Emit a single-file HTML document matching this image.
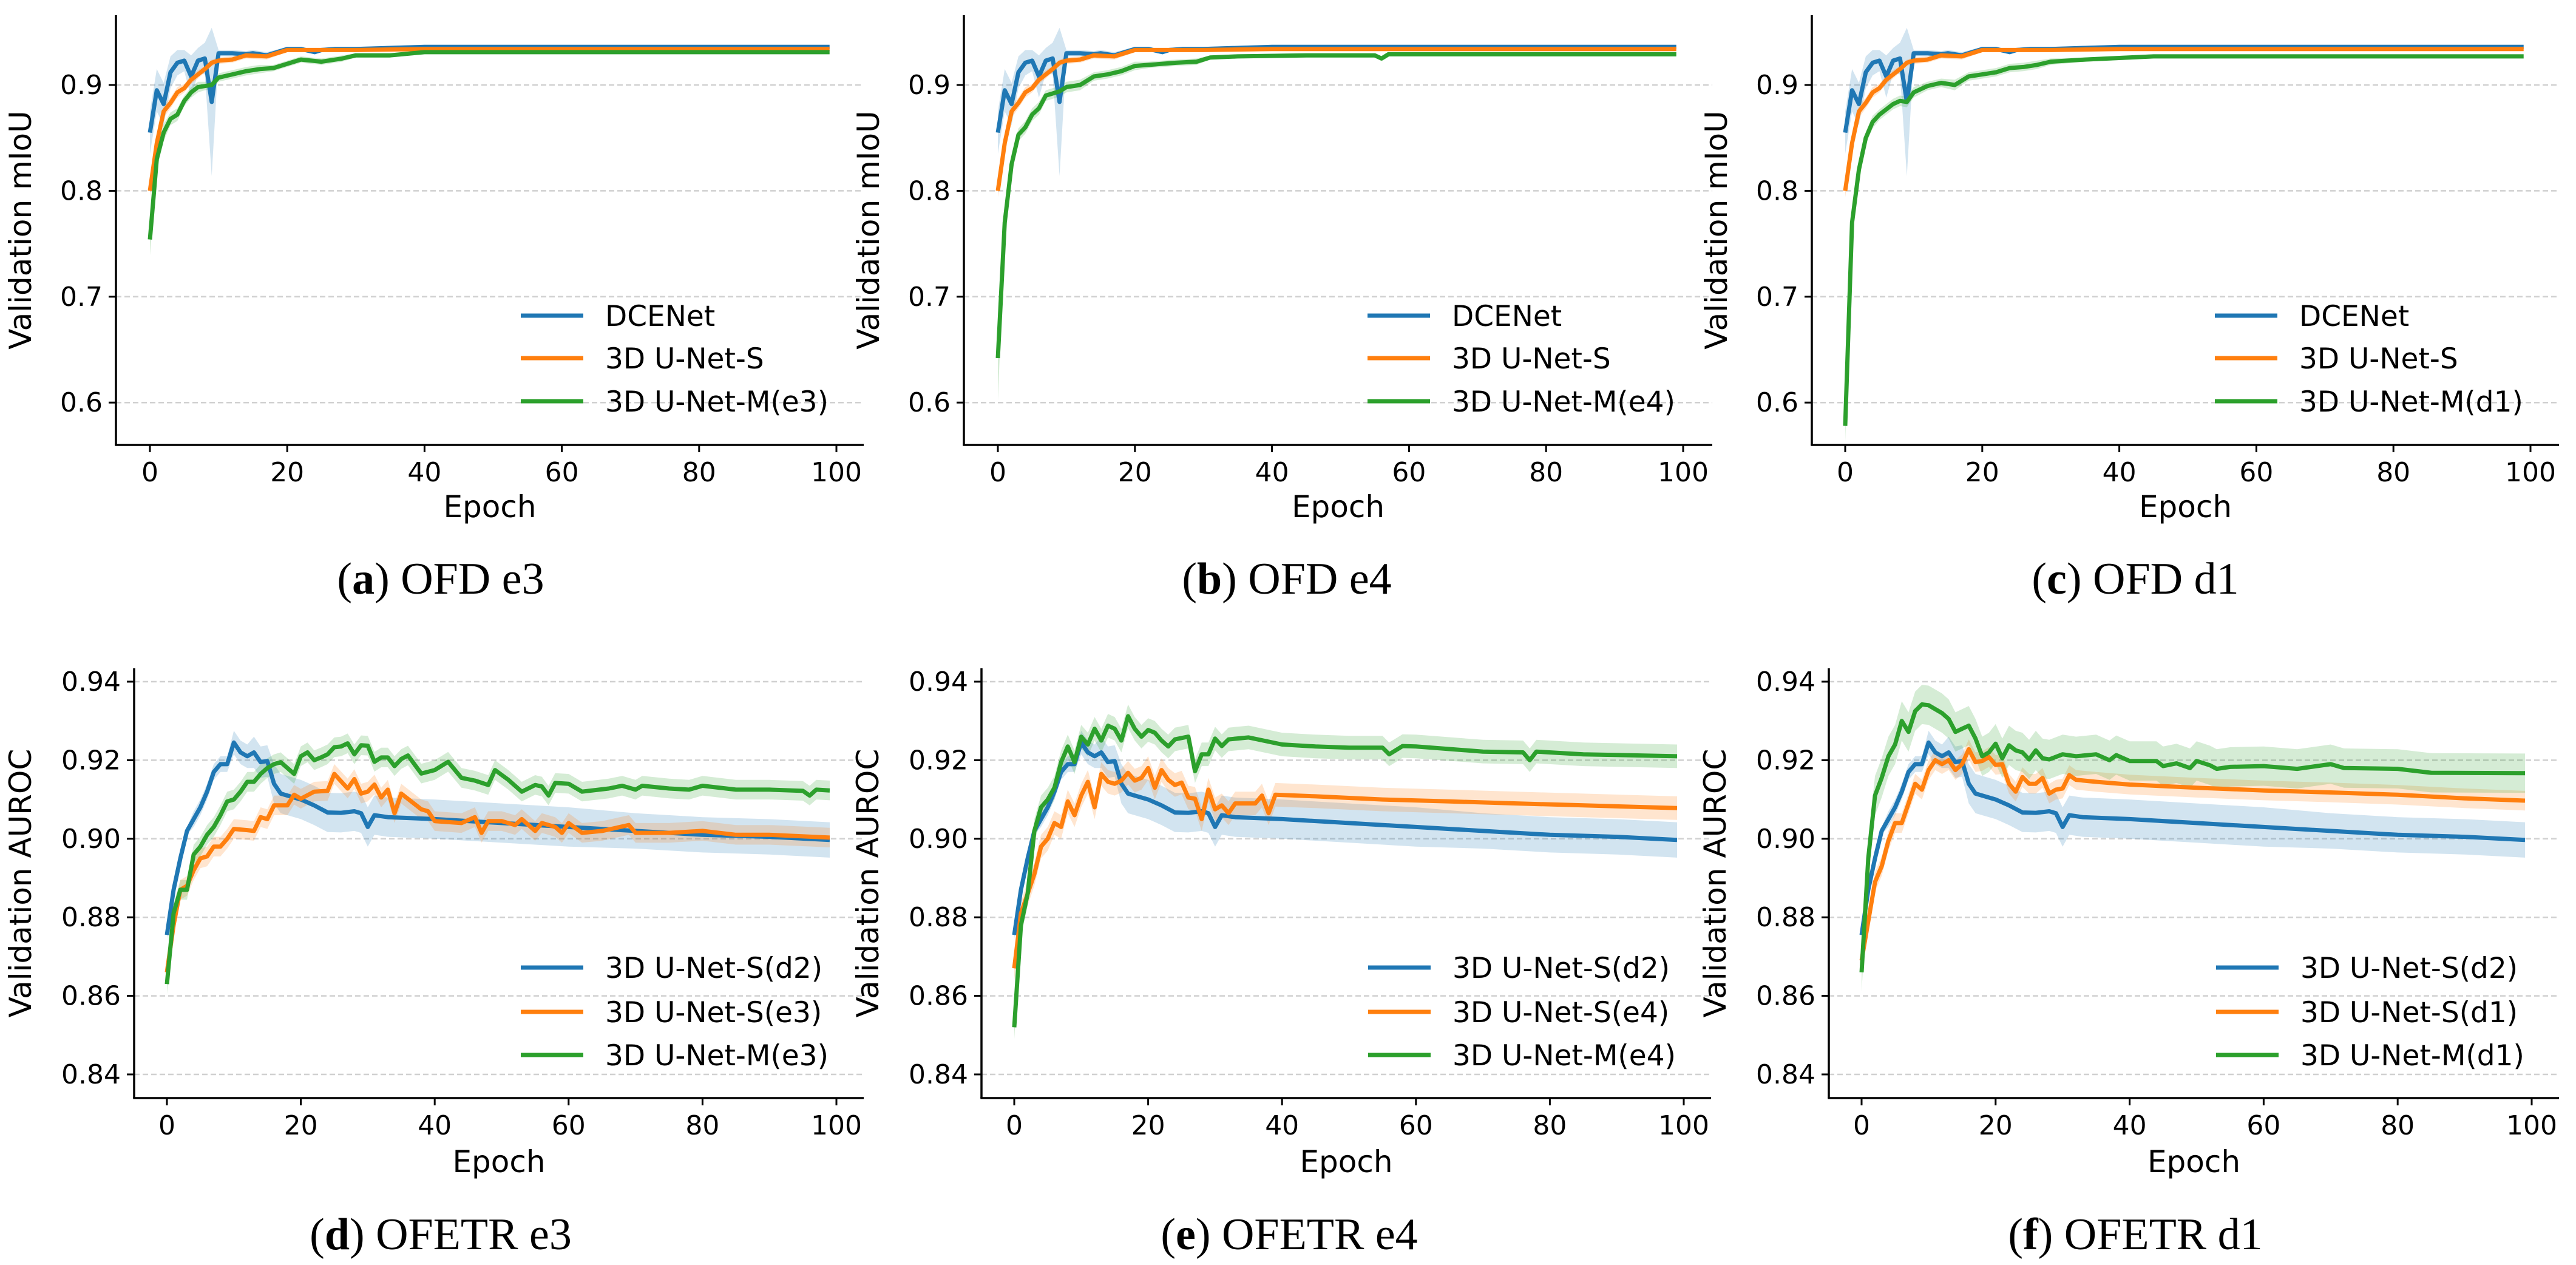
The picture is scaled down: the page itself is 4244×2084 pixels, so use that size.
<!DOCTYPE html>
<html><head><meta charset="utf-8"><style>
html,body{margin:0;padding:0;background:#fff;}
svg{display:block;}
</style></head><body>
<svg id="fig" width="4244" height="2084" viewBox="0 0 4244 2084" xmlns="http://www.w3.org/2000/svg"></svg>
<script>
// ---------- data ----------
const ofdTicks = [0.6, 0.7, 0.8, 0.9];
const ofdTickLabels = ["0.6", "0.7", "0.8", "0.9"];
const aurocTicks = [0.84, 0.86, 0.88, 0.90, 0.92, 0.94];
const aurocTickLabels = ["0.84", "0.86", "0.88", "0.90", "0.92", "0.94"];
const xTicks = [0, 20, 40, 60, 80, 100];
const xTickLabels = ["0", "20", "40", "60", "80", "100"];

const dcenetEpochs = [0,1,2,3,4,5,6,7,8,9,10,12,14,15,17,20,22,24,25,27,30,35,40,50,60,80,99];
const dcenetValues = [0.855,0.895,0.882,0.912,0.921,0.923,0.908,0.923,0.925,0.884,0.930,0.930,0.929,0.930,0.928,0.934,0.934,0.931,0.933,0.934,0.934,0.935,0.936,0.936,0.936,0.936,0.936];
const dcenetStd = [0.02,0.02,0.02,0.015,0.012,0.01,0.02,0.012,0.015,0.07,0.003,0.003,0.003,0.003,0.003,0.002,0.002,0.002,0.002,0.002,0.002,0.002,0.002,0.002,0.002,0.002,0.002];

const unetSEpochs = [0,1,2,3,4,5,6,7,8,9,10,12,14,17,20,30,40,60,99];
const unetSValues = [0.800,0.845,0.875,0.883,0.893,0.897,0.905,0.910,0.915,0.921,0.923,0.924,0.928,0.927,0.933,0.933,0.934,0.934,0.934];
const unetSStd = [0.006,0.006,0.006,0.005,0.005,0.004,0.004,0.004,0.003,0.003,0.003,0.003,0.003,0.003,0.002,0.002,0.002,0.002,0.002];

const mE3Epochs = [0,1,2,3,4,5,6,7,8,9,10,12,14,16,18,22,25,28,30,35,40,60,99];
const mE3Values = [0.754,0.830,0.855,0.868,0.872,0.885,0.893,0.898,0.899,0.900,0.907,0.910,0.913,0.915,0.916,0.924,0.922,0.925,0.928,0.928,0.931,0.931,0.931];
const mE3Std = [0.015,0.01,0.008,0.006,0.006,0.005,0.005,0.005,0.004,0.004,0.004,0.004,0.004,0.004,0.003,0.003,0.003,0.003,0.002,0.002,0.002,0.002,0.002];

const mE4Epochs = [0,1,2,3,4,5,6,7,8,9,10,12,14,16,18,20,22,26,29,31,35,45,55,56,57,99];
const mE4Values = [0.642,0.770,0.825,0.853,0.860,0.872,0.878,0.890,0.892,0.894,0.898,0.900,0.908,0.910,0.913,0.918,0.919,0.921,0.922,0.926,0.927,0.928,0.928,0.925,0.929,0.929];
const mE4Std = [0.04,0.015,0.01,0.006,0.006,0.006,0.006,0.005,0.005,0.005,0.005,0.005,0.004,0.004,0.004,0.004,0.003,0.003,0.003,0.002,0.002,0.002,0.002,0.002,0.002,0.002];

const mD1Epochs = [0,1,2,3,4,5,6,7,8,9,10,12,14,16,18,20,22,24,26,28,30,35,45,60,99];
const mD1Values = [0.578,0.770,0.820,0.850,0.865,0.872,0.877,0.882,0.885,0.884,0.893,0.899,0.902,0.900,0.908,0.910,0.912,0.916,0.917,0.919,0.922,0.924,0.927,0.927,0.927];
const mD1Std = [0.015,0.01,0.008,0.006,0.006,0.005,0.005,0.005,0.005,0.005,0.005,0.004,0.004,0.005,0.004,0.004,0.004,0.004,0.004,0.004,0.003,0.002,0.002,0.002,0.002];

const sD2Epochs = [0,1,2,3,4,5,6,7,8,9,10,11,12,13,14,15,16,17,18,20,22,24,26,28,29,30,31,33,40,50,60,70,80,90,99];
const sD2Values = [0.8755,0.887,0.895,0.902,0.905,0.908,0.912,0.917,0.919,0.919,0.9245,0.922,0.921,0.922,0.9195,0.9198,0.914,0.9115,0.911,0.910,0.9085,0.9067,0.9066,0.907,0.9065,0.903,0.906,0.9055,0.905,0.904,0.903,0.902,0.901,0.9005,0.8997];
const sD2Std = [0.001,0.001,0.001,0.001,0.002,0.002,0.002,0.002,0.002,0.002,0.003,0.003,0.003,0.004,0.004,0.004,0.005,0.005,0.005,0.005,0.005,0.005,0.005,0.005,0.005,0.005,0.005,0.005,0.005,0.005,0.005,0.0045,0.0045,0.0045,0.0045];

const sE3Epochs = [0,1,2,3,4,5,6,7,8,9,10,12,13,14,15,16,18,19,20,22,24,25,27,28,29,30,31,32,33,34,35,38,39,40,44,46,47,48,50,52,53,55,56,58,59,60,62,65,69,70,75,80,85,90,99];
const sE3Values = [0.866,0.878,0.887,0.888,0.892,0.895,0.8955,0.898,0.898,0.900,0.9025,0.9022,0.902,0.9055,0.905,0.9085,0.9085,0.9112,0.9102,0.912,0.9122,0.9165,0.9128,0.9152,0.9115,0.912,0.9138,0.9105,0.9125,0.9065,0.9115,0.9075,0.907,0.9045,0.904,0.9055,0.9015,0.9045,0.9045,0.9035,0.905,0.902,0.904,0.903,0.9015,0.904,0.9015,0.902,0.9035,0.9015,0.9015,0.902,0.901,0.901,0.9003];
const sE3Std = 0.0025;

const mAE3Epochs = [0,1,2,3,4,5,6,7,8,9,10,11,12,13,14,15,16,17,18,19,20,21,22,23,24,25,26,27,28,29,30,31,32,33,34,35,36,38,40,42,44,46,48,49,51,53,55,56,57,58,60,62,66,68,70,71,75,78,80,85,90,95,96,97,99];
const mAE3Values = [0.863,0.881,0.887,0.887,0.896,0.898,0.901,0.903,0.906,0.9095,0.910,0.912,0.9145,0.9145,0.9165,0.918,0.919,0.9195,0.918,0.9165,0.921,0.922,0.920,0.9207,0.9215,0.9233,0.9235,0.9243,0.9215,0.9238,0.9237,0.9196,0.9207,0.9207,0.9185,0.9203,0.9212,0.9166,0.9175,0.9196,0.9155,0.9148,0.9137,0.9175,0.915,0.912,0.9137,0.9133,0.911,0.9142,0.914,0.912,0.9128,0.9135,0.9125,0.9135,0.9128,0.9125,0.9135,0.9125,0.9125,0.9122,0.911,0.9125,0.9123];
const mAE3Std = 0.0025;

const sE4Epochs = [0,1,2,3,4,5,6,7,8,9,10,11,12,13,14,15,16,17,18,19,20,21,22,23,24,25,26,27,28,29,30,31,32,33,36,37,38,39,45,55,65,75,85,99];
const sE4Values = [0.867,0.881,0.886,0.891,0.898,0.900,0.904,0.903,0.9095,0.906,0.911,0.9145,0.908,0.9165,0.9145,0.914,0.9148,0.9168,0.9148,0.9155,0.918,0.913,0.9175,0.915,0.9137,0.9143,0.9105,0.9102,0.905,0.9125,0.9075,0.9085,0.9065,0.909,0.909,0.911,0.9065,0.9112,0.9108,0.910,0.9095,0.909,0.9085,0.9078];
const sE4Std = 0.003;

const mAE4Epochs = [0,1,2,3,4,5,6,7,8,9,10,11,12,13,14,15,16,17,18,19,20,21,22,23,24,26,27,28,29,30,31,32,35,40,45,50,55,56,58,60,70,76,77,78,85,99];
const mAE4Values = [0.852,0.878,0.886,0.902,0.908,0.910,0.913,0.9195,0.9235,0.9195,0.926,0.924,0.928,0.925,0.9288,0.928,0.925,0.9312,0.928,0.926,0.9277,0.927,0.925,0.9235,0.9253,0.926,0.9172,0.9215,0.9215,0.9255,0.9236,0.9253,0.9258,0.924,0.9235,0.9232,0.9232,0.9215,0.9236,0.9235,0.9222,0.922,0.920,0.9222,0.9215,0.921];
const mAE4Std = 0.003;

const sD1Epochs = [0,1,2,3,4,5,6,7,8,9,10,11,12,13,14,15,16,17,18,19,20,21,22,23,24,25,26,27,28,29,30,31,32,35,40,50,60,70,80,90,99];
const sD1Values = [0.869,0.879,0.889,0.893,0.8995,0.904,0.904,0.909,0.914,0.9125,0.9175,0.920,0.919,0.920,0.9175,0.919,0.9228,0.9195,0.9198,0.9208,0.9188,0.919,0.914,0.912,0.9157,0.914,0.914,0.9155,0.9115,0.9125,0.9128,0.9162,0.915,0.9145,0.9138,0.913,0.9123,0.9118,0.9112,0.9103,0.9097];
const sD1Std = 0.0025;

const mAD1Epochs = [0,1,2,3,4,5,6,7,8,9,10,11,12,13,14,15,16,17,18,19,20,21,22,23,24,25,26,27,28,30,32,35,37,38,40,44,45,47,49,50,52,53,55,60,65,70,72,80,85,99];
const mAD1Values = [0.866,0.895,0.911,0.9155,0.921,0.924,0.930,0.9272,0.9325,0.9342,0.934,0.933,0.932,0.9305,0.9272,0.928,0.9288,0.9255,0.921,0.922,0.9242,0.9205,0.9238,0.9225,0.922,0.9202,0.9225,0.9205,0.9202,0.9215,0.921,0.9215,0.920,0.9213,0.9198,0.9198,0.9185,0.9192,0.918,0.9198,0.9187,0.9178,0.9183,0.9185,0.9178,0.919,0.918,0.9178,0.9168,0.9167];
const mAD1Std = 0.005;

// ---------- drawing ----------
const NS = "http://www.w3.org/2000/svg";
const svg = document.getElementById("fig");
const COLORS = {blue:"#1f77b4", orange:"#ff7f0e", green:"#2ca02c"};

function mk(tag, attrs, parent){
  const e = document.createElementNS(NS, tag);
  for (const k in attrs) e.setAttribute(k, attrs[k]);
  (parent || svg).appendChild(e);
  return e;
}
function stdAt(std, i){ return Array.isArray(std) ? std[i] : std; }

function drawPanel(p){
  const g = mk("g", {});
  
  
  const xs = e => p.x0 + (e/100)*(p.x100 - p.x0);
  const ys = v => p.yRef + (p.vRef - v) * p.pxPerUnit;
  p.ticks.forEach((t,i)=>{
    const y = ys(t);
    const gl = mk("line", {x1:p.left, x2:p.right, y1:y, y2:y, stroke:"#d0d0d0", "stroke-width":2.5, "stroke-dasharray":"9,5"}, g);
    
    
  });
  p.series.forEach(s=>{
    let up = "", dn = [];
    s.e.forEach((e,i)=>{
      const sd = stdAt(s.sd, i);
      up += (i?"L":"M") + xs(e).toFixed(1) + "," + ys(s.v[i]+sd).toFixed(1);
      dn.push("L" + xs(e).toFixed(1) + "," + ys(s.v[i]-sd).toFixed(1));
    });
    const band = mk("path", {d: up + dn.reverse().join("") + "Z", fill: s.c, "fill-opacity":0.2, stroke:"none"}, g);
    
    
  });
  p.series.forEach(s=>{
    const d = s.e.map((e,i)=>(i?"L":"M") + xs(e).toFixed(1) + "," + ys(s.v[i]).toFixed(1)).join("");
    const ln = mk("path", {d, fill:"none", stroke:s.c, "stroke-width":7, "stroke-linejoin":"round"}, g);
    
    
  });
  const sp1 = mk("line", {x1:p.left, x2:p.left, y1:p.top, y2:p.bottom, stroke:"#000", "stroke-width":3.5}, g);
  
  
  const sp2 = mk("line", {x1:p.left-1.75, x2:p.right, y1:p.bottom, y2:p.bottom, stroke:"#000", "stroke-width":3.5}, g);
  
  
  p.ticks.forEach((t,i)=>{
    const y = ys(t);
    mk("line", {x1:p.left-12, x2:p.left, y1:y, y2:y, stroke:"#000", "stroke-width":3}, g);
    const tl = mk("text", {x:p.left-22, y:y+15, "text-anchor":"end", "font-size":44, "font-family":"DejaVu Sans, Liberation Sans, sans-serif"}, g);
    tl.textContent = p.tickLabels[i];
    
    
  });
  xTicks.forEach((t,i)=>{
    const x = xs(t);
    mk("line", {x1:x, x2:x, y1:p.bottom, y2:p.bottom+12, stroke:"#000", "stroke-width":3}, g);
    const tl = mk("text", {x:x, y:p.xTickY, "text-anchor":"middle", "font-size":44, "font-family":"DejaVu Sans, Liberation Sans, sans-serif"}, g);
    tl.textContent = xTickLabels[i];
    
    
  });
  const xt = mk("text", {x:(p.left+p.right)/2, y:p.xTitleY, "text-anchor":"middle", "font-size":50, "font-family":"DejaVu Sans, Liberation Sans, sans-serif"}, g);
  xt.textContent = "Epoch";
  
  
  const yc = (p.top+p.bottom)/2;
  const yt = mk("text", {x:p.left-p.yTitleOff, y:yc, "text-anchor":"middle", "font-size":50, "font-family":"DejaVu Sans, Liberation Sans, sans-serif", transform:`rotate(-90 ${p.left-p.yTitleOff} ${yc})`}, g);
  yt.textContent = p.yTitle;
  
  
  p.series.forEach((s,i)=>{
    const ly = p.legendY[i];
    const ll = mk("line", {x1:p.x100-520, x2:p.x100-417, y1:ly, y2:ly, stroke:s.c, "stroke-width":7}, g);
    
    
    const lt = mk("text", {x:p.x100-381, y:ly+17, "font-size":47, "font-family":"DejaVu Sans, Liberation Sans, sans-serif"}, g);
    lt.textContent = s.label;
    
    
  });
  const cap = mk("text", {x:p.capX, y:p.capY, "text-anchor":"middle", "font-size":74, "font-family":"Liberation Serif, serif"}, g);
  
  
  const b = document.createElementNS(NS, "tspan"); b.textContent = p.capLetter; b.setAttribute("font-weight","bold");
  cap.appendChild(document.createTextNode("("));
  cap.appendChild(b);
  cap.appendChild(document.createTextNode(") " + p.capText));
}

const row1 = {top:25, bottom:733, yRef:140, vRef:0.9, pxPerUnit:1744, ticks:ofdTicks, tickLabels:ofdTickLabels, xTickY:793, xTitleY:852, yTitle:"Validation mIoU", yTitleOff:140, legendY:[520,590,661], capY:978};
const row2 = {top:1101, bottom:1809, yRef:1123, vRef:0.94, pxPerUnit:6470, ticks:aurocTicks, tickLabels:aurocTickLabels, xTickY:1869, xTitleY:1931, yTitle:"Validation AUROC", yTitleOff:170, legendY:[1594,1667,1738], capY:2058};

const B = (e,v,sd,label)=>({e,v,sd,label,c:COLORS.blue,key:"blue"});
const O = (e,v,sd,label)=>({e,v,sd,label,c:COLORS.orange,key:"orange"});
const G = (e,v,sd,label)=>({e,v,sd,label,c:COLORS.green,key:"green"});

const panels = [
  Object.assign({}, row1, {name:"panel-a", left:191, x0:247, x100:1378, right:1423, capX:726, capLetter:"a", capText:"OFD e3",
    series:[B(dcenetEpochs,dcenetValues,dcenetStd,"DCENet"), O(unetSEpochs,unetSValues,unetSStd,"3D U-Net-S"), G(mE3Epochs,mE3Values,mE3Std,"3D U-Net-M(e3)")]}),
  Object.assign({}, row1, {name:"panel-b", left:1588, x0:1644, x100:2773, right:2821, capX:2120, capLetter:"b", capText:"OFD e4",
    series:[B(dcenetEpochs,dcenetValues,dcenetStd,"DCENet"), O(unetSEpochs,unetSValues,unetSStd,"3D U-Net-S"), G(mE4Epochs,mE4Values,mE4Std,"3D U-Net-M(e4)")]}),
  Object.assign({}, row1, {name:"panel-c", left:2985, x0:3040, x100:4169, right:4216, capX:3518, capLetter:"c", capText:"OFD d1",
    series:[B(dcenetEpochs,dcenetValues,dcenetStd,"DCENet"), O(unetSEpochs,unetSValues,unetSStd,"3D U-Net-S"), G(mD1Epochs,mD1Values,mD1Std,"3D U-Net-M(d1)")]}),
  Object.assign({}, row2, {name:"panel-d", left:221, x0:275, x100:1378, right:1423, capX:726, capLetter:"d", capText:"OFETR e3",
    series:[B(sD2Epochs,sD2Values,sD2Std,"3D U-Net-S(d2)"), O(sE3Epochs,sE3Values,sE3Std,"3D U-Net-S(e3)"), G(mAE3Epochs,mAE3Values,mAE3Std,"3D U-Net-M(e3)")]}),
  Object.assign({}, row2, {name:"panel-e", left:1617, x0:1671, x100:2774, right:2819, capX:2124, capLetter:"e", capText:"OFETR e4",
    series:[B(sD2Epochs,sD2Values,sD2Std,"3D U-Net-S(d2)"), O(sE4Epochs,sE4Values,sE4Std,"3D U-Net-S(e4)"), G(mAE4Epochs,mAE4Values,mAE4Std,"3D U-Net-M(e4)")]}),
  Object.assign({}, row2, {name:"panel-f", left:3013, x0:3067, x100:4171, right:4216, capX:3518, capLetter:"f", capText:"OFETR d1",
    series:[B(sD2Epochs,sD2Values,sD2Std,"3D U-Net-S(d2)"), O(sD1Epochs,sD1Values,sD1Std,"3D U-Net-S(d1)"), G(mAD1Epochs,mAD1Values,mAD1Std,"3D U-Net-M(d1)")]})
];
panels.forEach(drawPanel);
</script>
</body></html>
